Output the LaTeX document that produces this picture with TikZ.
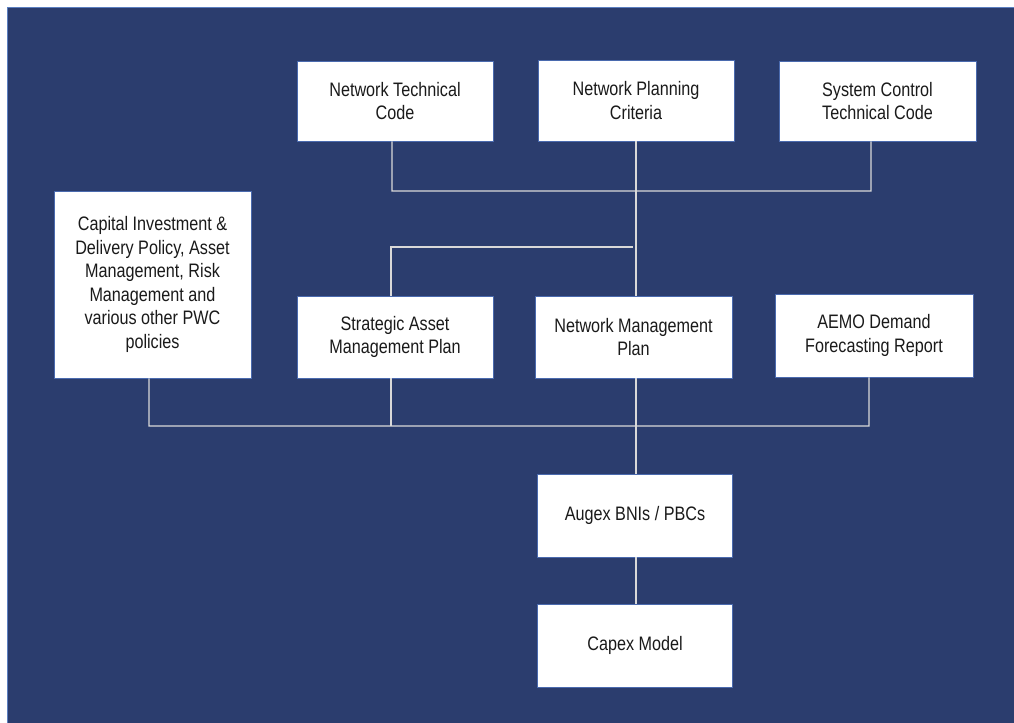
\documentclass[tikz,border=0pt]{standalone}
\usepackage{fontspec}
\setmainfont[FakeStretch=0.83]{Liberation Sans}
\definecolor{panel}{HTML}{2B3D6E}
\definecolor{paneledge}{HTML}{5B7FC0}
\definecolor{boxedge}{HTML}{4A6AAE}
\definecolor{wirecol}{HTML}{D9D9D9}
\definecolor{ink}{HTML}{1A1A1A}
\tikzset{
  docbox/.style={rectangle, fill=white, draw=boxedge, line width=0.8bp,
    inner sep=0pt, align=center, text=ink,
    font=\fontsize{19.5bp}{23.5bp}\selectfont},
  wire/.style={draw=wirecol, line width=1.3bp},
}
\begin{document}
\begin{tikzpicture}[x=1bp, y=-1bp]
\useasboundingbox (0,0) rectangle (1014,723);
% panel, running off the right and bottom of the page
\fill[panel, draw=paneledge, line width=1bp] (7,8) rectangle (1040,750);

% top row
\node[docbox, minimum width=196bp, minimum height=80bp] (ntc) at (395,101) {Network Technical\\Code};
\node[docbox, minimum width=196bp, minimum height=81bp] (npc) at (636,100.5) {Network Planning\\Criteria};
\node[docbox, minimum width=197bp, minimum height=80bp] (sctc) at (877.5,101) {System Control\\Technical Code};

% middle row
\node[docbox, minimum width=197bp, minimum height=187bp] (cap) at (152.5,284.5) {Capital Investment \&\\Delivery Policy, Asset\\Management, Risk\\Management and\\various other PWC\\policies};
\node[docbox, minimum width=196bp, minimum height=82bp] (samp) at (395,337) {Strategic Asset\\Management Plan};
\node[docbox, minimum width=197bp, minimum height=82bp] (nmp) at (633.5,337) {Network Management\\Plan};
\node[docbox, minimum width=198bp, minimum height=83bp] (aemo) at (874,335.5) {AEMO Demand\\Forecasting Report};

% bottom chain
\node[docbox, minimum width=195bp, minimum height=83bp] (aug) at (635,515.5) {Augex BNIs / PBCs};
\node[docbox, minimum width=195bp, minimum height=83bp] (capex) at (635,645.5) {Capex Model};

% bus levels
\coordinate (tbusL) at (392,191);
\coordinate (tbusR) at (871,191);
\coordinate (branch) at (633,247);
\coordinate (bbusL) at (149,426);
\coordinate (bbusR) at (869,426);

% top bus
\draw[wire] ([xshift=-3bp]ntc.south) -- (tbusL) -- (tbusR) -- ([xshift=-6.5bp]sctc.south);
\draw[wire] (npc.south) -- (npc.south |- nmp.north);
\draw[wire] (branch) -| ([xshift=-4bp]samp.north);

% bottom bus
\draw[wire] ([xshift=-3.5bp]cap.south) -- (bbusL) -- (bbusR) -- ([xshift=-5bp]aemo.south);
\draw[wire] ([xshift=-4bp]samp.south) -- ([xshift=-4bp]samp.south |- bbusL);
\draw[wire] (npc.south |- nmp.south) -- (npc.south |- aug.north);
\draw[wire] (npc.south |- aug.south) -- (npc.south |- capex.north);
\end{tikzpicture}
\end{document}
